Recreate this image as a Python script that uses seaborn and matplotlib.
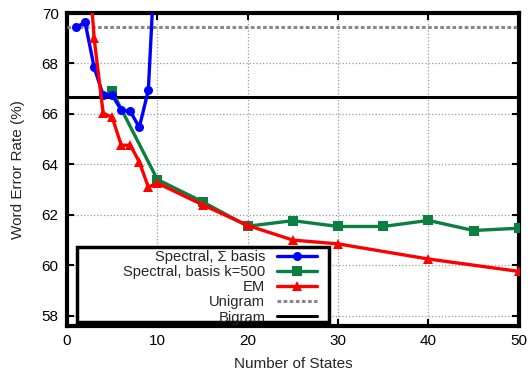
import numpy as np
import pandas as pd
import matplotlib
matplotlib.use("Agg")
import matplotlib.pyplot as plt
from matplotlib.patches import Rectangle
import seaborn as sns

# data
spectral_x = [1, 2, 3, 4, 5, 6, 7, 8, 9, 10]
spectral_y = [69.43, 69.63, 67.85, 66.74, 66.75, 66.15, 66.1, 65.47, 66.94, 74.0]

basis_x = [5, 10, 15, 20, 25, 30, 35, 40, 45, 50]
basis_y = [66.9, 63.4, 62.52, 61.55, 61.77, 61.54, 61.54, 61.78, 61.38, 61.47]

em_x = [2, 3, 4, 5, 6, 7, 8, 9, 10, 15, 20, 25, 30, 40, 50]
em_y = [74.0, 69.0, 66.03, 65.87, 64.76, 64.76, 64.1, 63.1, 63.26, 62.4, 61.58, 61.0, 60.85, 60.25, 59.76]

unigram = 69.43
bigram = 66.66

sns.set_style("ticks")
plt.rcParams['font.family'] = ['Liberation Sans', 'DejaVu Sans']

fig = plt.figure(figsize=(5.32, 3.72), dpi=100)
ax = fig.add_axes([0.126, 0.124, 0.849, 0.841])

lw = 2.4
sns.lineplot(x=spectral_x, y=spectral_y, ax=ax, color="#0000FF", lw=lw, marker="o",
             markersize=6.5, markeredgewidth=0, label="Spectral, Σ basis", zorder=5)
sns.lineplot(x=basis_x, y=basis_y, ax=ax, color="#0A7F3F", lw=lw, marker="s",
             markersize=6.5, markeredgewidth=0, label="Spectral, basis k=500", zorder=4)
sns.lineplot(x=em_x, y=em_y, ax=ax, color="#FF0000", lw=lw, marker="^",
             markersize=7.5, markeredgewidth=0, label="EM", zorder=6)
ax.axhline(unigram, color="#888888", lw=2.2, ls=(0, (1.2, 0.8)), label="Unigram", zorder=3)
ax.axhline(bigram, color="black", lw=2.2, label="Bigram", zorder=3)

ax.set_xlim(0, 50)
ax.set_ylim(57.6, 70)
ax.set_xticks(np.arange(0, 51, 10))
ax.set_yticks(np.arange(58, 71, 2))
ax.grid(True, color="#999999", ls=":", lw=0.9)
ax.tick_params(direction="in", length=5, width=1.5, top=True, right=True,
               labelsize=11, colors="black", pad=6)
for s in ax.spines.values():
    s.set_linewidth(3)
    s.set_color("black")
    s.set_visible(True)

ax.set_xlabel("Number of States", fontsize=11, labelpad=6)
ax.set_ylabel("Word Error Rate (%)", fontsize=11, labelpad=12)

# legend box (gnuplot style, wide frame with right-aligned labels)
box = Rectangle((0.022, 0.013), 0.558, 0.24, transform=ax.transAxes,
                facecolor="white", edgecolor="black", lw=2.5, zorder=9)
ax.add_patch(box)
leg = ax.legend(loc="lower right", bbox_to_anchor=(0.553, 0.004), markerfirst=False,
                fontsize=10.6, frameon=False, handlelength=2.7, labelspacing=0.08,
                borderpad=0.0, handletextpad=0.8, borderaxespad=0.0)
leg.set_zorder(10)

fig.savefig("out.png", dpi=100)
